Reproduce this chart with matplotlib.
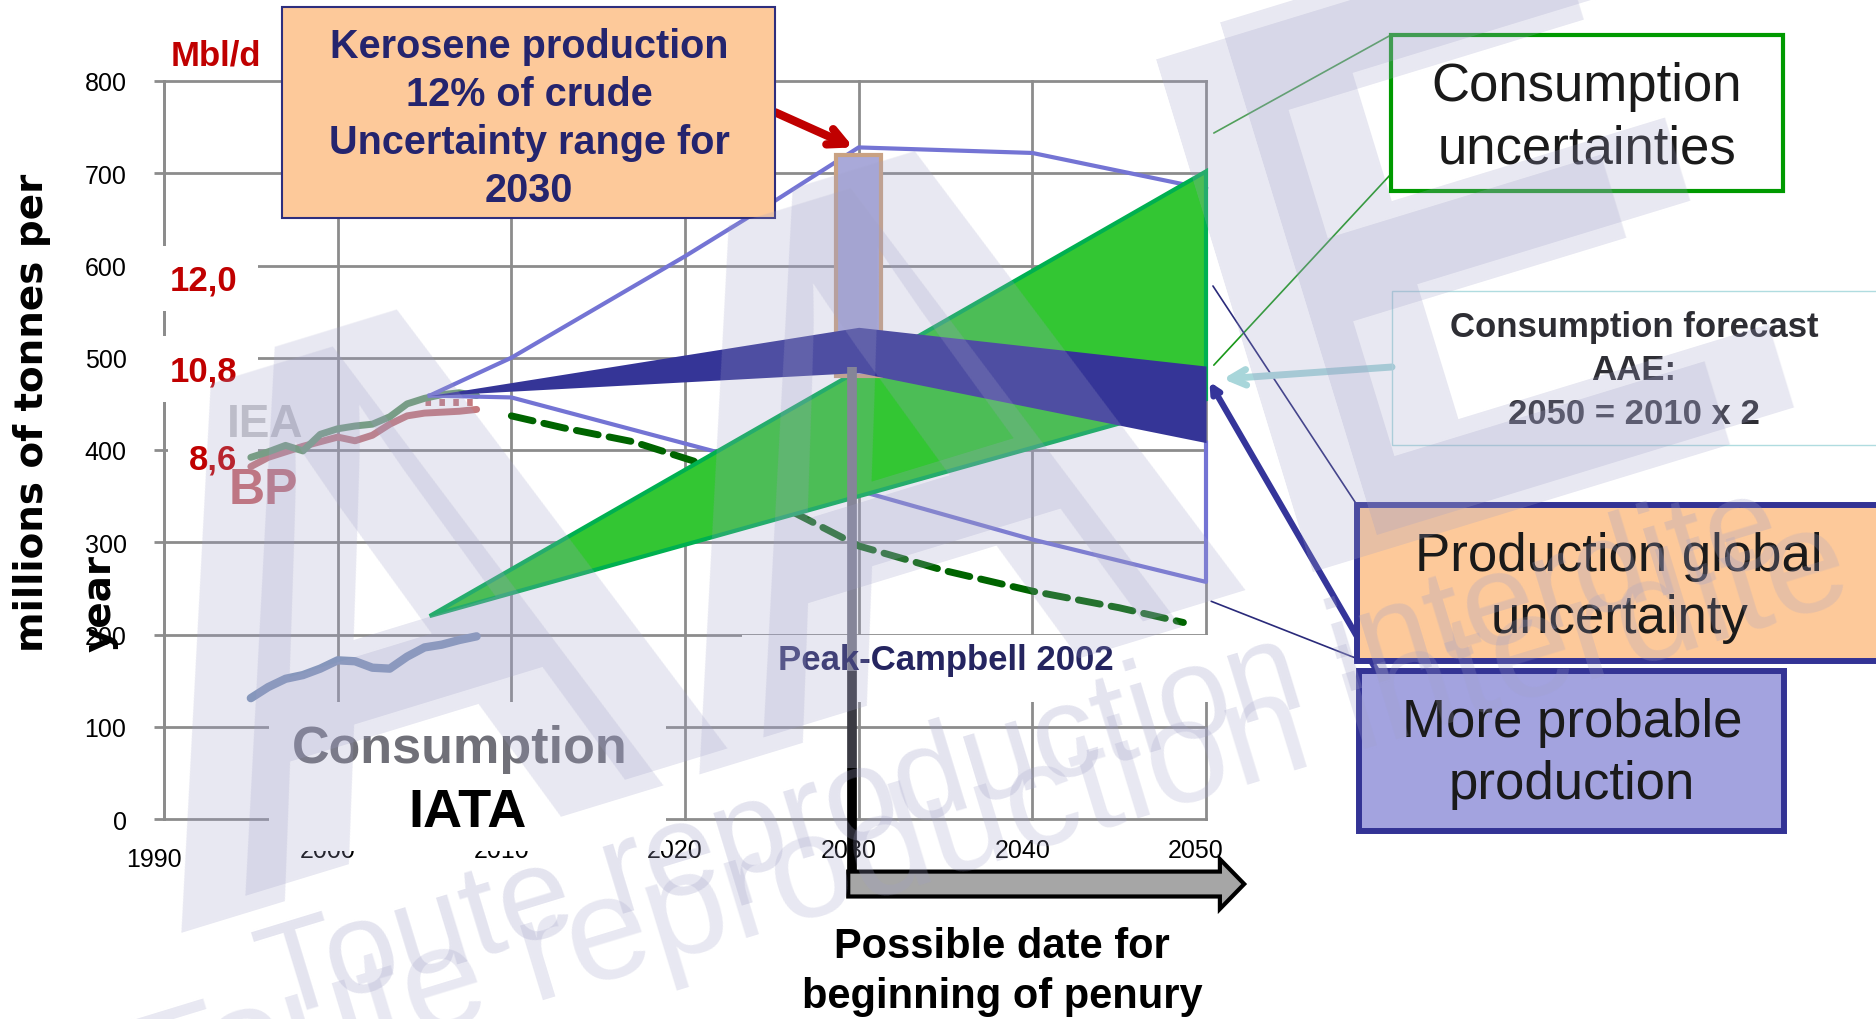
import matplotlib
matplotlib.use("Agg")
import matplotlib.pyplot as plt
from matplotlib.patches import Rectangle, Polygon, FancyArrow
from matplotlib.transforms import ScaledTranslation

W, H = 1876, 1020

# historical kerosene series, Mt/year
hist_years = list(range(1995, 2009))
iea = [392, 398, 405, 399, 417, 423, 426, 428, 436, 450, 456, 460, 462, 459]
bp = [382, 392, 398, 404, 409, 414, 410, 416, 428, 437, 440, 441, 442, 444]
iata = [131, 143, 152, 156, 163, 172, 171, 164, 163, 176, 186, 189, 194, 198]
bp_dot_years = [2005.0, 2008.2]
bp_dot = [452, 452]

# production envelope
upper_years = [2005.3, 2010, 2015, 2020, 2025, 2030, 2040, 2050]
upper_prod = [459, 500, 555, 610, 668, 728, 722, 683]
lower_years = [2005.3, 2010, 2021.6, 2030, 2040, 2050, 2050]
lower_prod = [459, 457, 399, 356, 303, 257, 408]

# more probable production band
band_years = [2005.3, 2030, 2050]
band_top = [459, 533, 491]
band_bottom = [459, 484, 408]

# consumption uncertainty wedge
cons_years = [2005.3, 2050, 2050]
cons_vals = [220, 702, 455]

# Campbell 2002 peak scenario
campbell_years = [2010, 2013, 2017, 2020.5, 2026.6, 2030, 2035, 2040, 2045, 2048.7]
campbell = [437, 424, 409, 388, 329, 296, 269, 247, 229, 213]

# kerosene uncertainty range in 2030
range_year = 2030
range_low, range_high = 480, 720

# secondary scale, Mbl/d
mbd_labels = ["12,0", "10,8", "8,6"]
mbd_pos = [584, 486, 390]

x_ticks = [1990, 2000, 2010, 2020, 2030, 2040, 2050]
y_ticks = [0, 100, 200, 300, 400, 500, 600, 700, 800]

plt.rcParams["font.family"] = ["Liberation Sans", "DejaVu Sans"]
NARROW = ["Liberation Sans Narrow", "Liberation Sans"]


def fx(px):
    return px / W


def fy(py):
    return 1 - py / H


fig = plt.figure(figsize=(W / 100, H / 100), dpi=100)
ax = fig.add_axes([fx(164), fy(820), (1206 - 164) / W, (820 - 82) / H])
ax.set_xlim(1990, 2050)
ax.set_ylim(0, 800)
ax.set_xticks(x_ticks)
ax.set_yticks(y_ticks)
ax.set_axisbelow(True)
ax.grid(True, color="#8c8c8c", lw=2.0)
for gl in ax.get_xgridlines() + ax.get_ygridlines():
    gl.set_clip_on(False)
for side in ("top", "right", "bottom"):
    ax.spines[side].set_visible(False)
ax.spines["left"].set_color("#8c8c8c")
ax.spines["left"].set_linewidth(2.0)
ax.tick_params(axis="y", length=7, width=2, color="#8c8c8c", pad=20,
               labelsize=18, labelfontfamily=NARROW)
ax.tick_params(axis="x", length=0, pad=14, labelsize=18, labelfontfamily=NARROW)
for lbl in ax.get_xticklabels():
    dy = -9 if lbl.get_text() == "1990" else 0
    lbl.set_transform(lbl.get_transform()
                      + ScaledTranslation(-10 / 100, dy / 100, fig.dpi_scale_trans))

# white label backgrounds that interrupt the grid
for x0, y0, w, h in [(1989.4, 550.7, 6.0, 70.4), (1989.4, 452.0, 6.0, 71.6),
                     (1990.25, 368.6, 5.15, 43.3), (1996.05, -34.7, 22.85, 161.5),
                     (2023.3, 126.8, 27.2, 72.7)]:
    ax.add_patch(Rectangle((x0, y0), w, h, facecolor="white", edgecolor="none",
                           zorder=3, clip_on=False))

# historical series
ax.plot(hist_years, bp, color="#c47a7e", lw=5, solid_capstyle="round", zorder=4)
ax.plot(bp_dot_years, bp_dot, color="#c47a7e", lw=5, ls=(0, (0.8, 1.2)), zorder=4)
ax.plot(hist_years, iea, color="#6d9d73", lw=5, solid_capstyle="round", zorder=4.1)
ax.plot(hist_years, iata, color="#7f95b9", lw=6, solid_capstyle="round", zorder=4)

# scenarios
ax.plot(campbell_years, campbell, color="#006400", lw=5, dashes=(3.2, 1.6),
        dash_capstyle="round", zorder=4)
ax.plot(upper_years, upper_prod, color="#7474d4", lw=3, zorder=4.2, clip_on=False)
ax.plot(lower_years, lower_prod, color="#7474d4", lw=3, zorder=4.2, clip_on=False)

ax.add_patch(Polygon(list(zip(cons_years, cons_vals)), closed=True,
                     facecolor="#33c633", edgecolor="#00b050", lw=3, zorder=5,
                     clip_on=False))
ax.bar(range_year, range_high - range_low, bottom=range_low, width=2.6,
       facecolor="#a9a9d9", edgecolor="#c9a283", lw=3, zorder=5.5)
ax.fill_between(band_years, band_bottom, band_top, color="#353597", lw=0,
                zorder=6, clip_on=False)

# date of penury: vertical marker and block arrow
ax.plot([2029.6, 2029.6], [490, 160], color="#7d7d8a", lw=7, zorder=7,
        solid_capstyle="butt")
ax.plot([2029.6, 2029.6], [160, 55], color="#3a3a42", lw=7, zorder=7,
        solid_capstyle="butt", clip_on=False)
ax.plot([2029.6, 2029.6], [55, -58], color="black", lw=7, zorder=7,
        solid_capstyle="butt", clip_on=False)
ax.add_patch(FancyArrow(2029.4, -70.5, 22.8, 0, width=27, head_width=54,
                        head_length=1.4, length_includes_head=True,
                        facecolor="#a6a6a6", edgecolor="black", lw=3,
                        zorder=7, clip_on=False))

# in-chart labels
ax.text(1993.6, 428, "IEA", color="#c6c6ca", fontsize=33, fontweight="bold",
        va="center", ha="left", zorder=3.5)
ax.text(1993.7, 357, "BP", color="#c86a6e", fontsize=36, fontweight="bold",
        va="center", ha="left", zorder=3.5)
for lab, pos in zip(mbd_labels, mbd_pos):
    ax.text(1994.2, pos, lab, color="#c00000", fontsize=25, fontweight="bold",
            ha="right", va="center", family=NARROW, zorder=3.6, clip_on=False)
ax.text(1995.6, 828, "Mbl/d", color="#c00000", fontsize=25, fontweight="bold",
        ha="right", va="center", family=NARROW, zorder=3.6, clip_on=False)
ax.text(2035.0, 173, "Peak-Campbell 2002", color="#252560", fontsize=25,
        fontweight="bold", ha="center", va="center", zorder=8)

fig.text(fx(460), fy(750), "Consumption", color="#707078", fontsize=37.5,
         fontweight="bold", ha="center", va="center", zorder=4)
fig.text(fx(468), fy(813), "IATA", color="black", fontsize=39,
         fontweight="bold", ha="center", va="center", zorder=4)
fig.text(fx(1002), fy(972), "Possible date for\nbeginning of penury",
         color="black", fontsize=30, fontweight="bold", ha="center",
         va="center", linespacing=1.34, zorder=4)

# y axis title
fig.text(fx(32), fy(652), "millions of tonnes per", rotation=90, family="DejaVu Sans",
         fontsize=28, fontweight="bold", ha="center", va="bottom", zorder=4)
fig.text(fx(100), fy(652), "year", rotation=90, family="DejaVu Sans",
         fontsize=28, fontweight="bold", ha="center", va="bottom", zorder=4)

# kerosene callout
fig.add_artist(Rectangle((fx(282), fy(219)), (775 - 282) / W, (219 - 8) / H,
                         transform=fig.transFigure, facecolor="#fdc99a",
                         edgecolor="#2e2e7e", lw=1.5, zorder=3))
fig.text(fx(529), fy(119), "Kerosene production\n12% of crude\nUncertainty range for\n2030",
         color="#24246e", fontsize=28.5, fontweight="bold", ha="center",
         va="center", linespacing=1.33, zorder=3.5)
ax.annotate("", xy=(2029.7, 728), xytext=(2025.2, 766),
            arrowprops=dict(arrowstyle="->", color="#c00000", lw=6,
                            mutation_scale=30, shrinkA=0, shrinkB=0),
            zorder=9, annotation_clip=False)

# right-hand callouts
boxes = [
    ((1391, 36, 1783, 192), "white", "#009a00", 3.0),
    ((1392, 292, 1890, 446), "none", "#b0dce0", 1.0),
    ((1357, 506, 1890, 662), "#fdc99a", "#333395", 4.3),
    ((1359, 672, 1784, 832), "#a3a3df", "#333395", 4.3),
]
for (x0, y0, x1, y1), fc, ec, lw in boxes:
    fig.add_artist(Rectangle((fx(x0), fy(y1)), (x1 - x0) / W, (y1 - y0) / H,
                             transform=fig.transFigure, facecolor=fc,
                             edgecolor=ec, lw=lw, zorder=3))

fig.text(fx(1587), fy(118), "Consumption\nuncertainties", color="#1a1a1a",
         fontsize=38, ha="center", va="center", linespacing=1.32, zorder=3.5)
fig.text(fx(1634), fy(371), "Consumption forecast\nAAE:\n2050 = 2010 x 2",
         color="#2e2e34", fontsize=25, fontweight="bold", ha="center",
         va="center", linespacing=1.39, zorder=3.5)
fig.text(fx(1619), fy(588), "Production global\nuncertainty", color="#1a1a1a",
         fontsize=38, ha="center", va="center", linespacing=1.32, zorder=3.5)
fig.text(fx(1572), fy(754), "More probable\nproduction", color="#1a1a1a",
         fontsize=38, ha="center", va="center", linespacing=1.3, zorder=3.5)

connectors = [
    ((2050.45, 743.6), (1391, 36), "#3aa03a", 1.2),
    ((2050.45, 492.0), (1391, 175), "#189818", 1.2),
    ((2050.4, 577.8), (1357, 506), "#2a2a7a", 1.2),
    ((2050.3, 236.0), (1358, 660), "#2a2a7a", 1.2),
]
for xy, (px, py), col, lw in connectors:
    ax.annotate("", xy=xy, xytext=(px, H - py), textcoords="figure pixels",
                arrowprops=dict(arrowstyle="-", color=col, lw=lw,
                                shrinkA=0, shrinkB=0),
                zorder=8, annotation_clip=False)
ax.annotate("", xy=(2050.97, 477), xytext=(1392, H - 368), textcoords="figure pixels",
            arrowprops=dict(arrowstyle="->", color="#a8d6da", lw=5,
                            mutation_scale=28, shrinkA=0, shrinkB=0),
            zorder=8, annotation_clip=False)
ax.annotate("", xy=(2050.2, 474), xytext=(1377, H - 672), textcoords="figure pixels",
            arrowprops=dict(arrowstyle="->", color="#35359a", lw=4.5,
                            mutation_scale=14, shrinkA=0, shrinkB=0),
            zorder=8, annotation_clip=False)

# watermark
WM = dict(fontweight="bold", color="#a0a0c8", alpha=0.24, rotation=17,
          rotation_mode="anchor", ha="left", va="baseline", zorder=10)
for dx, dy in [(-64, 37), (0, 0)]:
    fig.text(fx(226 + dx), fy(896 + dy), "AA", fontsize=541, **WM)
    fig.text(fx(1325 + dx), fy(535 + dy), "E", fontsize=560, **WM)
fig.text(fx(275), fy(1020), "Toute reproduction interdite", fontsize=94,
         color="#a0a0c8", alpha=0.28, rotation=17, rotation_mode="anchor",
         ha="left", va="baseline", zorder=10)
fig.text(fx(150), fy(1120), "Toute reproduction interdite", fontsize=106,
         color="#a0a0c8", alpha=0.24, rotation=17, rotation_mode="anchor",
         ha="left", va="baseline", zorder=10)

fig.savefig("out.png", dpi=100)
